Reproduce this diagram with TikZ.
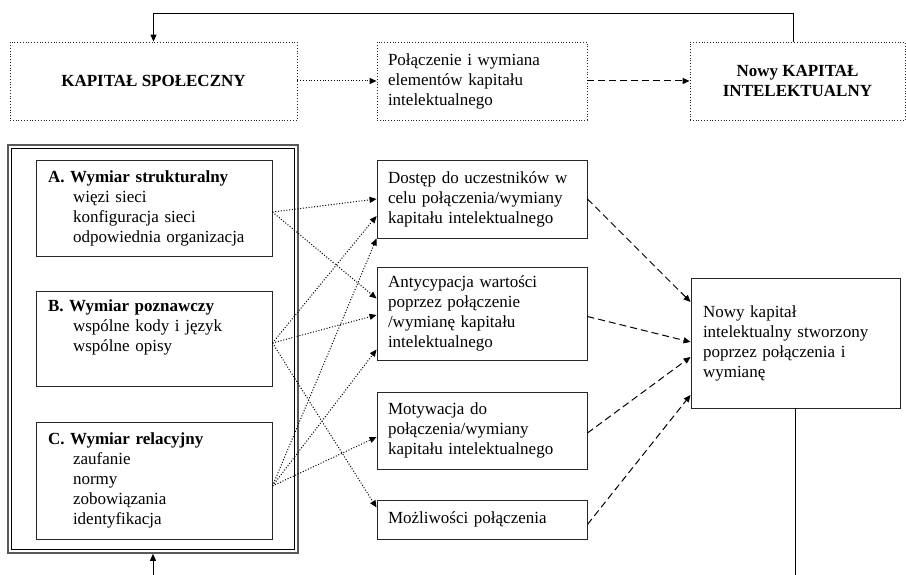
\documentclass[tikz,border=0pt]{standalone}
\usepackage{fontspec}
\setmainfont{Liberation Serif}
\usetikzlibrary{arrows.meta}
\newcommand{\indln}{\hspace*{25pt}}
\begin{document}
\begin{tikzpicture}[x=1pt,y=-1pt,
  every node/.style={font=\fontsize{17}{20}\selectfont},
  box/.style={draw=black!85, line width=0.9pt, rectangle, inner sep=0pt, align=left},
  dbox/.style={draw=black!85, line width=0.8pt, dotted, rectangle, inner sep=0pt},
  tip/.style={-{Triangle[length=7pt,width=6pt]}},
  dotarrow/.style={tip, line width=1pt, dash pattern=on 1pt off 1.8pt},
  dasharrow/.style={tip, line width=1pt, dash pattern=on 7pt off 4pt},
  solidarrow/.style={tip, line width=1pt},
  plainline/.style={line width=1pt}
]
\useasboundingbox (0,0) rectangle (906,575);

% top row
\node[dbox, minimum width=287pt, minimum height=78pt, align=center, font=\fontsize{17}{20}\selectfont\bfseries]
  (ks) at (153.5,81) {KAPITAŁ SPOŁECZNY};
\node[dbox, minimum width=210pt, minimum height=78pt, text width=188pt, inner xsep=11pt, align=left]
  (kp) at (482,81) {Połączenie i wymiana\\elementów kapitału\\intelektualnego};
\node[dbox, minimum width=215pt, minimum height=78pt, align=center, font=\fontsize{17}{20}\selectfont\bfseries]
  (kn) at (797.5,81) {Nowy KAPITAŁ\\INTELEKTUALNY};

% frame with the three dimensions
\node[draw=black!65, line width=1.6pt, rectangle, minimum width=290pt, minimum height=408pt, inner sep=0pt]
  (frame) at (153,349) {};
\draw[black, line width=0.8pt] ([shift={(4pt,-4pt)}]frame.north west) rectangle ([shift={(-4pt,4pt)}]frame.south east);

\node[box, minimum width=236pt, minimum height=96pt, text width=212pt, inner xsep=12pt]
  (A) at (154,208) {\textbf{A. Wymiar strukturalny}\\\indln więzi sieci\\\indln konfiguracja sieci\\\indln odpowiednia organizacja};
\node[box, minimum width=236pt, minimum height=95pt, text width=212pt, inner xsep=12pt]
  (B) at (154,338.5) {\textbf{B. Wymiar poznawczy}\\\indln wspólne kody i język\\\indln wspólne opisy\\\strut};
\node[box, minimum width=236pt, minimum height=117pt, text width=212pt, inner xsep=12pt]
  (C) at (154,480.5) {\textbf{C. Wymiar relacyjny}\\\indln zaufanie\\\indln normy\\\indln zobowiązania\\\indln identyfikacja};

% middle column
\node[box, minimum width=210pt, minimum height=78pt, text width=188pt, inner xsep=11pt]
  (d1) at (482,199) {Dostęp do uczestników w\\celu połączenia/wymiany\\kapitału intelektualnego};
\node[box, minimum width=210pt, minimum height=93pt, text width=188pt, inner xsep=11pt]
  (d2) at (482,313.5) {Antycypacja wartości\\poprzez połączenie\\/wymianę kapitału\\intelektualnego};
\node[box, minimum width=210pt, minimum height=77pt, text width=188pt, inner xsep=11pt]
  (d3) at (482,430.5) {Motywacja do\\połączenia/wymiany\\kapitału intelektualnego};
\node[box, minimum width=210pt, minimum height=39pt, text width=188pt, inner xsep=11pt]
  (d4) at (482,519.5) {Możliwości połączenia};

% result
\node[box, minimum width=209pt, minimum height=130pt, text width=185pt, inner xsep=12pt]
  (nk) at (795.5,343) {Nowy kapitał\\intelektualny stworzony\\poprzez połączenia i\\wymianę};

% loop ends below the page edge
\coordinate (loopR) at (795.5,575);
\coordinate (loopL) at (153,575);

% top connectors
\draw[dotarrow] (ks.east) -- (kp.west);
\draw[dasharrow] (kp.east) -- (kn.west);
\draw[solidarrow] ([xshift=-4pt]kn.north) -- ++(0,-28) -| (ks.north);

% dimensions to conditions
\draw[dotarrow] ([yshift=-4pt]A.east) -- (d1.west);
\draw[dotarrow] ([yshift=-4pt]A.east) -- ([yshift=15pt]d2.west);
\draw[dotarrow] ([yshift=-4.5pt]B.east) -- ([yshift=-17pt]d1.west);
\draw[dotarrow] ([yshift=-4.5pt]B.east) -- ([yshift=-1.5pt]d2.west);
\draw[dotarrow] ([yshift=-4.5pt]B.east) -- ([yshift=12pt]d4.west);
\draw[dotarrow] ([yshift=-5.5pt]C.east) -- (d1.south west);
\draw[dotarrow] ([yshift=-5.5pt]C.east) -- ([yshift=-36pt]d2.west);
\draw[dotarrow] ([yshift=-5.5pt]C.east) -- ([yshift=-6.5pt]d3.west);

% conditions to result
\draw[dasharrow] (d1.east) -- ([yshift=41pt]nk.west);
\draw[dasharrow] ([yshift=-3pt]d2.east) -- ([yshift=1pt]nk.west);
\draw[dasharrow] ([yshift=-2.5pt]d3.east) -- ([yshift=-14pt]nk.west);
\draw[dasharrow] ([yshift=-5pt]d4.east) -- ([yshift=-52pt]nk.west);

% feedback loop at the bottom
\draw[plainline] (nk.south) -- (loopR);
\draw[solidarrow] (loopL) -- (frame.south);
\end{tikzpicture}
\end{document}
